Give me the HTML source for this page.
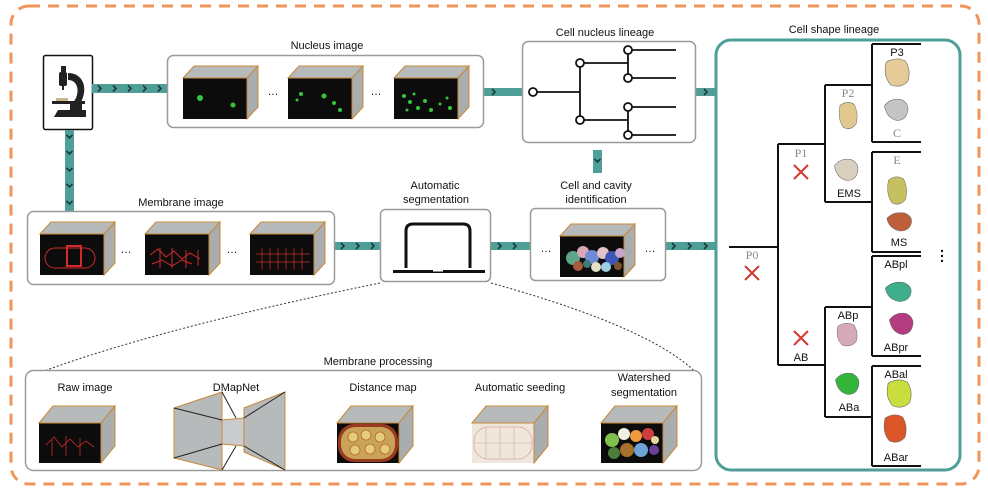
<!DOCTYPE html>
<html><head><meta charset="utf-8"><style>
html,body{margin:0;padding:0;background:#fff;width:988px;height:494px;overflow:hidden}
svg{display:block}
text{font-family:"Liberation Sans",sans-serif;font-size:11px;fill:#111}
.s{font-family:"Liberation Serif",serif;fill:#888;font-size:12px}
</style></head><body>
<svg width="988" height="494" viewBox="0 0 988 494" xmlns="http://www.w3.org/2000/svg">
<defs>
<g id="cA"><rect x="0" y="0" width="64" height="41" fill="#0c0c0c"/><polygon points="0,0 11,-12 75,-12 64,0" fill="#b7babb" stroke="#c7883a" stroke-width="1"/><polygon points="64,0 75,-12 75,29 64,41" fill="#a9adae" stroke="#c7883a" stroke-width="1"/></g>
<g id="cB"><rect x="0" y="0" width="62" height="40" fill="#0c0c0c"/><polygon points="0,0 14,-17 76,-17 62,0" fill="#b7babb" stroke="#c7883a" stroke-width="1"/><polygon points="62,0 76,-17 76,23 62,40" fill="#a9adae" stroke="#c7883a" stroke-width="1"/></g>
<g id="ch"><polyline points="-2,-3 1,0 -2,3" fill="none" stroke="#1d3b3a" stroke-width="1.6"/></g>
<g id="chd"><polyline points="-3,-2 0,1 3,-2" fill="none" stroke="#1d3b3a" stroke-width="1.6"/></g>
<path id="b1" d="M-9,-9 q8,-5 16,-1 q5,8 2,17 q-6,6 -14,3 q-7,-7 -4,-19z"/>
<path id="b2" d="M-11,-4 q6,-8 16,-6 q8,4 6,12 q-2,8 -10,8 q-10,-2 -12,-14z"/>
</defs>
<rect x="11" y="6" width="968" height="478" rx="18" fill="none" stroke="#f0955a" stroke-width="3" stroke-dasharray="11 8"/>

<!-- microscope -->
<rect x="43.5" y="55.5" width="49" height="74" rx="2" fill="#fff" stroke="#111" stroke-width="1.5"/>
<g fill="#222">
<rect x="61" y="66" width="5" height="6"/><rect x="59" y="72" width="8" height="14" rx="2"/><rect x="62" y="86" width="2" height="4"/>
<path d="M68 73 C82 73 88 86 82 100 L78 108 L70 108 L76 98 C80 88 76 80 68 80Z"/>
<rect x="56" y="98" width="12" height="3" fill="#c8b98a"/><rect x="52" y="101" width="33" height="3"/>
<rect x="70" y="104" width="12" height="6"/><path d="M54 117 L58 110 L86 110 L86 117Z"/>
</g>

<!-- teal arrows -->
<g fill="#4f9e98">
<rect x="92" y="84" width="75" height="9"/>
<rect x="484" y="88" width="38" height="8"/>
<rect x="695" y="88" width="20" height="8"/>
<rect x="65" y="130" width="9" height="81"/>
<rect x="593" y="150" width="9" height="23"/>
<rect x="335" y="242" width="45" height="8"/>
<rect x="491" y="242" width="39" height="8"/>
<rect x="665" y="242" width="50" height="8"/>
<rect x="128" y="435" width="34" height="6"/><rect x="293" y="435" width="34" height="6"/><rect x="424" y="435" width="34" height="6"/><rect x="557" y="435" width="34" height="6"/>
</g>
<g>
<use href="#ch" x="100" y="88.5"/><use href="#ch" x="115" y="88.5"/><use href="#ch" x="130" y="88.5"/><use href="#ch" x="145" y="88.5"/><use href="#ch" x="160" y="88.5"/>
<use href="#ch" x="494" y="92"/><use href="#ch" x="706" y="92"/>
<use href="#chd" x="69.5" y="137"/><use href="#chd" x="69.5" y="153"/><use href="#chd" x="69.5" y="170"/><use href="#chd" x="69.5" y="186"/><use href="#chd" x="69.5" y="203"/>
<use href="#chd" x="597.5" y="161"/>
<use href="#ch" x="343" y="246"/><use href="#ch" x="358" y="246"/><use href="#ch" x="373" y="246"/>
<use href="#ch" x="500" y="246"/><use href="#ch" x="515" y="246"/>
<use href="#ch" x="674" y="246"/><use href="#ch" x="690" y="246"/><use href="#ch" x="706" y="246"/>
</g>
<g stroke="#1d3b3a" stroke-width="1" fill="none">
<path d="M134 436l2 2-2 2M141 436l2 2-2 2M148 436l2 2-2 2M155 436l2 2-2 2"/>
<path d="M299 436l2 2-2 2M306 436l2 2-2 2M313 436l2 2-2 2M320 436l2 2-2 2"/>
<path d="M430 436l2 2-2 2M437 436l2 2-2 2M444 436l2 2-2 2M451 436l2 2-2 2"/>
<path d="M563 436l2 2-2 2M570 436l2 2-2 2M577 436l2 2-2 2M584 436l2 2-2 2"/>
</g>

<!-- nucleus box -->
<text x="327" y="49" text-anchor="middle">Nucleus image</text>
<rect x="167.5" y="55.5" width="316" height="72" rx="6" fill="#fff" stroke="#9a9a9a" stroke-width="1.5"/>
<use href="#cA" x="183" y="78"/><use href="#cA" x="288" y="78"/><use href="#cA" x="394" y="78"/>
<g fill="#35c43a"><circle cx="200" cy="98" r="3"/><circle cx="233" cy="105" r="2.5"/>
<circle cx="301" cy="94" r="2"/><circle cx="324" cy="96" r="2.5"/><circle cx="334" cy="103" r="2"/><circle cx="340" cy="110" r="2"/><circle cx="297" cy="100" r="1.5"/>
<circle cx="404" cy="96" r="2"/><circle cx="410" cy="102" r="2"/><circle cx="414" cy="94" r="1.5"/><circle cx="418" cy="108" r="2"/><circle cx="425" cy="101" r="2"/><circle cx="440" cy="104" r="1.5"/><circle cx="447" cy="98" r="1.5"/><circle cx="450" cy="108" r="2"/><circle cx="407" cy="110" r="1.5"/><circle cx="431" cy="110" r="2"/></g>
<text x="273" y="95" text-anchor="middle" font-size="9">…</text><text x="376" y="95" text-anchor="middle" font-size="9">…</text>

<!-- nucleus lineage -->
<text x="605" y="36" text-anchor="middle">Cell nucleus lineage</text>
<rect x="522.5" y="41.5" width="173" height="101" rx="6" fill="#fff" stroke="#9a9a9a" stroke-width="1.5"/>
<g stroke="#111" stroke-width="1.8" fill="none">
<path d="M533 92H580M580 63V120M580 63H628M580 120H628M628 50V78M628 107V135M628 50H676M628 78H676M628 107H676M628 135H676"/>
</g>
<g fill="#fff" stroke="#111" stroke-width="1.8">
<circle cx="533" cy="92" r="4"/><circle cx="580" cy="63" r="4"/><circle cx="580" cy="120" r="4"/><circle cx="628" cy="50" r="4"/><circle cx="628" cy="78" r="4"/><circle cx="628" cy="107" r="4"/><circle cx="628" cy="135" r="4"/>
</g>

<!-- membrane box -->
<text x="181" y="206" text-anchor="middle">Membrane image</text>
<rect x="27.5" y="211.5" width="307" height="73" rx="6" fill="#fff" stroke="#9a9a9a" stroke-width="1.5"/>
<use href="#cA" x="40" y="234"/><use href="#cA" x="145" y="234"/><use href="#cA" x="250" y="234"/>
<g fill="none" stroke="#d42a2a" stroke-width="1">
<rect x="45" y="248" width="50" height="20" rx="10"/><rect x="67" y="246" width="14" height="20" stroke-width="2"/>
<path d="M150 255 l8 -6 l8 8 l8 -6 l8 8 l8 -6 l10 6 M152 264 l10 -4 l10 6 l10 -6 l10 4 M160 248 v20 M172 248 v20 M186 250 v18 M198 250 v16" />
<path d="M256 254 h54 M256 262 h54 M262 248 v22 M270 248 v22 M278 248 v22 M286 248 v22 M294 248 v22 M302 248 v22" stroke-width="0.7"/>
</g>
<text x="126" y="253" text-anchor="middle" font-size="9">…</text><text x="232" y="253" text-anchor="middle" font-size="9">…</text>

<!-- auto seg -->
<text x="435" y="189" text-anchor="middle">Automatic</text><text x="436" y="203" text-anchor="middle">segmentation</text>
<rect x="380.5" y="209.5" width="110" height="72" rx="5" fill="#fff" stroke="#9a9a9a" stroke-width="1.5"/>
<path d="M406 268 V231 Q406 224 413 224 H463 Q470 224 470 231 V268" fill="none" stroke="#111" stroke-width="3"/>
<rect x="393" y="270" width="92" height="3" fill="#111"/><rect x="433" y="270" width="10" height="1.5" fill="#fff"/>

<!-- cell cavity -->
<text x="596" y="189" text-anchor="middle">Cell and cavity</text><text x="596" y="203" text-anchor="middle">identification</text>
<rect x="530.5" y="208.5" width="135" height="72" rx="5" fill="#fff" stroke="#9a9a9a" stroke-width="1.5"/>
<use href="#cA" x="560" y="236"/>
<g>
<circle cx="573" cy="258" r="7" fill="#5ca48a"/><circle cx="583" cy="252" r="6" fill="#d9a7b5"/><circle cx="592" cy="257" r="7" fill="#6f8dd6"/><circle cx="603" cy="253" r="6" fill="#e3c2c9"/><circle cx="612" cy="258" r="7" fill="#3d57b8"/><circle cx="620" cy="253" r="5" fill="#c7a7c9"/><circle cx="578" cy="266" r="5" fill="#a85a3f"/><circle cx="596" cy="267" r="5" fill="#e6e0c7"/><circle cx="606" cy="267" r="5" fill="#9ad0e6"/><circle cx="618" cy="266" r="4" fill="#7c5530"/><circle cx="587" cy="264" r="4" fill="#3f7b7b"/>
</g>
<text x="546" y="252" text-anchor="middle" font-size="9">…</text><text x="650" y="252" text-anchor="middle" font-size="9">…</text>

<!-- cell shape lineage -->
<text x="834" y="33" text-anchor="middle">Cell shape lineage</text>
<rect x="716" y="40" width="244" height="430" rx="15" fill="#fff" stroke="#4f9e98" stroke-width="3"/>
<g stroke="#111" stroke-width="2" fill="none">
<path d="M729 247H778M778 144V365M778 144H825M778 365H825M825 85V202M825 85H872M825 202H872M872 44V142M872 44H921M872 142H921M872 152V252M872 152H921M872 252H921M825 307V417M825 307H872M825 417H872M872 256V356M872 256H921M872 356H921M872 366V466M872 366H921M872 466H921"/>
</g>
<g stroke="#d6382e" stroke-width="2">
<path d="M745 266l14 14M759 266l-14 14M794 165l14 14M808 165l-14 14M794 331l14 14M808 331l-14 14"/>
</g>
<text class="s" x="752" y="259" text-anchor="middle">P0</text>
<text class="s" x="801" y="157" text-anchor="middle">P1</text>
<text class="s" x="848" y="97" text-anchor="middle">P2</text>
<text class="s" x="897" y="137" text-anchor="middle">C</text>
<text class="s" x="897" y="164" text-anchor="middle">E</text>
<text x="897" y="56" text-anchor="middle">P3</text>
<text x="849" y="197" text-anchor="middle">EMS</text>
<text x="899" y="246" text-anchor="middle">MS</text>
<text x="896" y="268" text-anchor="middle">ABpl</text>
<text x="848" y="319" text-anchor="middle">ABp</text>
<text x="896" y="351" text-anchor="middle">ABpr</text>
<text x="801" y="361" text-anchor="middle">AB</text>
<text x="896" y="378" text-anchor="middle">ABal</text>
<text x="849" y="411" text-anchor="middle">ABa</text>
<text x="896" y="461" text-anchor="middle">ABar</text>
<g fill="#111"><circle cx="942" cy="251" r="1.2"/><circle cx="942" cy="256" r="1.2"/><circle cx="942" cy="261" r="1.2"/></g>
<!-- cell shapes -->
<g stroke-width="0.5" stroke="#666">
<use href="#b1" transform="translate(897,73) scale(1.2)" fill="#e6cb98"/>
<use href="#b2" transform="translate(896,110) scale(1.05)" fill="#c4c4c4"/>
<use href="#b1" transform="translate(848,116) scale(0.9,1.15)" fill="#e0c88f"/>
<use href="#b2" transform="translate(846,170) scale(1.05)" fill="#d8cfbe"/>
<use href="#b1" transform="translate(897,191) scale(0.95,1.2)" fill="#c5c160"/>
<use href="#b2" transform="translate(899,222) scale(1.1,0.9)" fill="#bf5f3a"/>
<use href="#b2" transform="translate(898,292) scale(1.15,0.95)" fill="#3eae8d"/>
<use href="#b2" transform="translate(901,324) scale(1.05)" fill="#b33b80"/>
<use href="#b1" transform="translate(847,335) scale(1)" fill="#d6a9b6"/>
<use href="#b2" transform="translate(847,384) scale(1.05)" fill="#35b43b"/>
<use href="#b1" transform="translate(899,394) scale(1.2)" fill="#c9dd3c"/>
<use href="#b1" transform="translate(895,429) scale(1.1,1.2)" fill="#dc5526"/>
</g>

<!-- membrane processing -->
<path d="M380 283 Q150 330 25 378" fill="none" stroke="#333" stroke-width="1" stroke-dasharray="2 2"/>
<path d="M491 283 Q660 330 701 378" fill="none" stroke="#333" stroke-width="1" stroke-dasharray="2 2"/>
<text x="378" y="365" text-anchor="middle">Membrane processing</text>
<rect x="25.5" y="370.5" width="676" height="100" rx="8" fill="#fff" stroke="#9a9a9a" stroke-width="1.5"/>
<text x="85" y="391" text-anchor="middle">Raw image</text>
<text x="236" y="391" text-anchor="middle">DMapNet</text>
<text x="383" y="391" text-anchor="middle">Distance map</text>
<text x="520" y="391" text-anchor="middle">Automatic seeding</text>
<text x="644" y="381" text-anchor="middle">Watershed</text><text x="644" y="396" text-anchor="middle">segmentation</text>
<use href="#cB" x="39" y="423"/>
<path d="M46 445 l8 -8 l8 10 l8 -8 l8 8 l8 -6 l8 6 M52 440 v16 M66 436 v20 M80 438 v18" fill="none" stroke="#c52a2a" stroke-width="0.8"/>
<!-- DMapNet -->
<g stroke="#222" stroke-width="1">
<polygon points="174,408 222,392 222,470 174,458" fill="#b7babb" stroke="#c7883a"/>
<polygon points="244,408 285,392 285,470 244,452" fill="#b7babb" stroke="#c7883a"/>
<polygon points="222,420 244,418 244,446 222,444" fill="#c9cbcc" stroke="#c7883a"/>
<path d="M174 408 L222 420 M174 458 L222 444 M285 392 L244 418 M285 470 L244 446 M222 392 L236 418 M222 470 L236 446" fill="none"/>
</g>
<use href="#cB" x="337" y="423"/>
<rect x="338" y="424" width="60" height="38" rx="16" fill="#9a3a1e"/>
<rect x="341" y="427" width="54" height="32" rx="14" fill="#c9a35a"/>
<g fill="#e4cc7a" stroke="#b7672c" stroke-width="0.8"><circle cx="353" cy="437" r="5"/><circle cx="366" cy="435" r="5"/><circle cx="380" cy="437" r="5"/><circle cx="355" cy="450" r="5"/><circle cx="370" cy="449" r="5"/><circle cx="385" cy="449" r="5"/></g>
<g><rect x="472" y="423" width="62" height="40" fill="#efe7dc"/><polygon points="472,423 486,406 548,406 534,423" fill="#b7babb" stroke="#c7883a"/><polygon points="534,423 548,406 548,446 534,463" fill="#a9adae" stroke="#c7883a"/>
<rect x="474" y="427" width="58" height="32" rx="14" fill="none" stroke="#d8a6a6" stroke-width="0.8"/>
<path d="M486 427 v32 M500 427 v32 M514 427 v32 M474 443 h58" stroke="#d8a6a6" stroke-width="0.6" fill="none"/></g>
<use href="#cB" x="601" y="423"/>
<g><circle cx="612" cy="440" r="7" fill="#7fc14a"/><circle cx="624" cy="434" r="6" fill="#f2efe0"/><circle cx="636" cy="436" r="6" fill="#ef9a3c"/><circle cx="648" cy="434" r="6" fill="#cc3f3f"/><circle cx="614" cy="453" r="6" fill="#4d7b3a"/><circle cx="627" cy="450" r="7" fill="#a7712c"/><circle cx="641" cy="450" r="7" fill="#6fa4d6"/><circle cx="654" cy="450" r="5" fill="#6b3f9a"/><circle cx="655" cy="440" r="4" fill="#e8d79a"/></g>
</svg>
</body></html>
